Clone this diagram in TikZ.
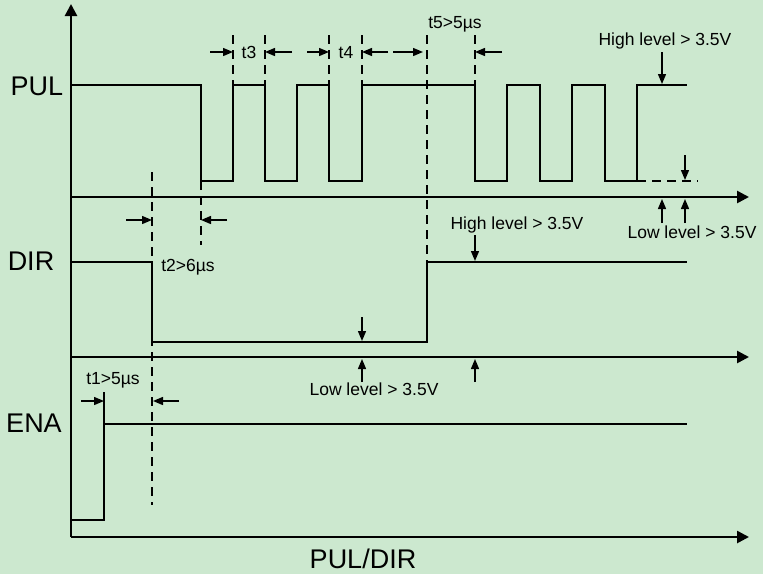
\documentclass[tikz,border=0pt]{standalone}
\usepackage{fontspec}
\setmainfont{Liberation Sans}
\usetikzlibrary{arrows.meta}
\definecolor{bg}{RGB}{204,232,207}
\begin{document}
\begin{tikzpicture}[x=1pt,y=-1pt,
  sig/.style={line width=2.6pt, line join=miter, line cap=rect},
  axis/.style={line width=2.6pt,-{Triangle[length=12pt,width=12pt]}},
  dim/.style={line width=1.4pt,-{Triangle[length=10pt,width=8pt]}},
  guide/.style={line width=1.4pt,dash pattern=on 9pt off 6pt},
  big/.style={font=\fontsize{27}{30}\selectfont, inner sep=0pt, anchor=base},
  small/.style={font=\fontsize{17.5}{20}\selectfont, inner sep=0pt, anchor=base}]
\fill[bg] (0,0) rectangle (763,574);
\useasboundingbox (0,0) rectangle (763,574);

% axes
\draw[axis] (71,537) -- (71,4);
\draw[axis] (71,197) -- (749,197);
\draw[axis] (71,357) -- (749,357);
\draw[axis] (71,537) -- (749,537);

% signals
\draw[sig] (71,85) -- (201,85) -- (201,181) -- (233,181) -- (233,85) -- (265,85) -- (265,181)
  -- (297,181) -- (297,85) -- (329,85) -- (329,181) -- (362,181) -- (362,85) -- (475,85)
  -- (475,181) -- (507,181) -- (507,85) -- (540,85) -- (540,181) -- (572,181) -- (572,85)
  -- (605,85) -- (605,181) -- (637,181) -- (637,85) -- (686,85);
\draw[guide] (637,181) -- (698,181);
\draw[sig] (71,262) -- (152,262) -- (152,342) -- (427,342) -- (427,262) -- (686,262);
\draw[sig] (71,520) -- (104,520) -- (104,424) -- (686,424);

% guide lines
\foreach \x in {233,265,329,362,475} \draw[guide] (\x,35) -- (\x,85);
\draw[guide] (427,35) -- (427,262);
\draw[guide] (152,172) -- (152,505);
\draw[guide] (201,181) -- (201,245);
\draw[line width=1.4pt] (104,392) -- (104,424);

% timing arrows
\draw[dim] (210,52) -- (233,52);
\draw[dim] (292,52) -- (265,52);
\draw[dim] (307,52) -- (329,52);
\draw[dim] (388,52) -- (362,52);
\draw[dim] (393,52) -- (423,52);
\draw[dim] (502,52) -- (475,52);
\draw[dim] (126,220) -- (152,220);
\draw[dim] (227,220) -- (201,220);
\draw[dim] (81,401) -- (104,401);
\draw[dim] (179,401) -- (153,401);

% level arrows
\draw[dim] (662,52) -- (662,84);
\draw[dim] (685,155) -- (685,180);
\draw[dim] (662,223) -- (662,199);
\draw[dim] (685,223) -- (685,199);
\draw[dim] (475,235) -- (475,261);
\draw[dim] (362,317) -- (362,341);
\draw[dim] (362,382) -- (362,359);
\draw[dim] (475,382) -- (475,359);

% labels
\node[big] (pul) at (37,95) {PUL};
\node[big] (dir) at (31,270) {DIR};
\node[big] (ena) at (34,432) {ENA};
\node[big] (xl) at (363,568) {PUL/DIR};
\node[small] (t3) at (249,58) {t3};
\node[small] (t4) at (346,58) {t4};
\node[small] (t5) at (455,28) {t5>5µs};
\node[small] (t2) at (188,271) {t2>6µs};
\node[small] (t1) at (113,384) {t1>5µs};
\node[small] (ph) at (665,45) {High level > 3.5V};
\node[small] (pl) at (692,238) {Low level > 3.5V};
\node[small] (dh) at (517,229) {High level > 3.5V};
\node[small] (dl) at (374,395) {Low level > 3.5V};
\end{tikzpicture}
\end{document}
